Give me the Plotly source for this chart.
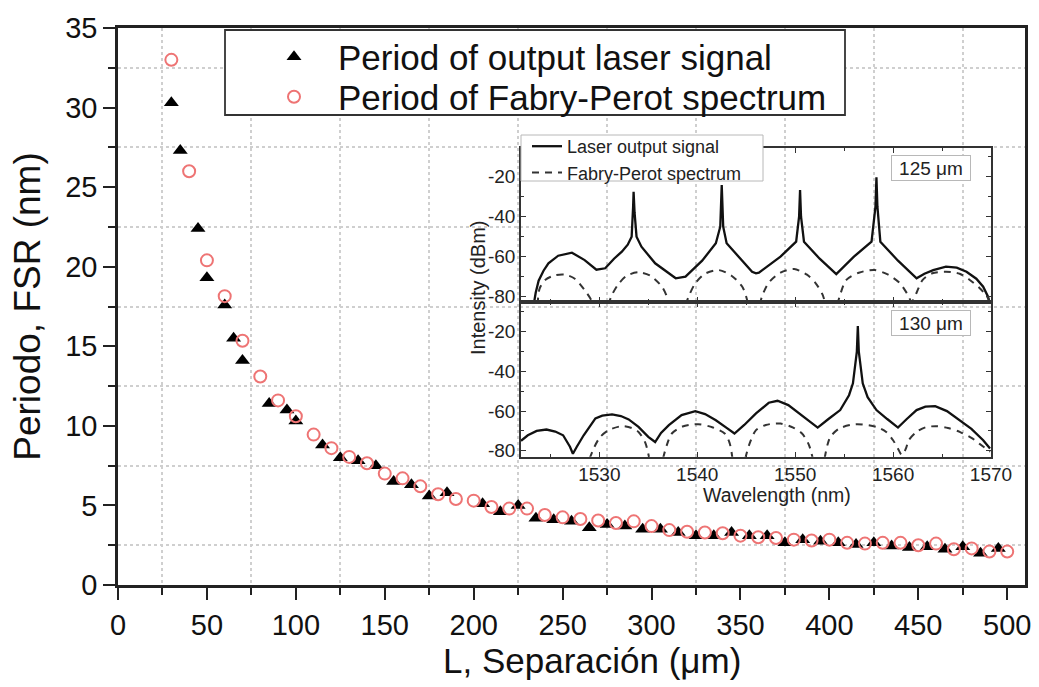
import plotly.graph_objects as go

# ---------------- main chart data ----------------
L_laser = [30, 35, 45, 50, 60, 65, 70, 85, 95, 100, 115, 125, 135, 145, 155, 165, 175, 185, 205, 215,
           225, 235, 245, 255, 265, 275, 285, 295, 305, 315, 325, 335, 345, 355, 365, 375, 385, 395, 405, 415,
           425, 435, 445, 455, 465, 475, 485, 495]
P_laser = [30.3, 27.3, 22.4, 19.3, 17.6, 15.5, 14.1, 11.4, 11.0, 10.3, 8.8, 8.0, 7.8, 7.5, 6.5, 6.3, 5.6, 5.8, 5.1, 4.6,
           5.0, 4.2, 4.1, 4.0, 3.6, 3.8, 3.7, 3.5, 3.5, 3.3, 3.1, 3.1, 3.3, 3.1, 3.1, 2.65, 2.85, 2.75, 2.65, 2.55,
           2.65, 2.45, 2.35, 2.4, 2.25, 2.4, 2.0, 2.3]

L_fp = [30, 40, 50, 60, 70, 80, 90, 100, 110, 120, 130, 140, 150, 160, 170, 180, 190, 200, 210, 220,
        230, 240, 250, 260, 270, 280, 290, 300, 310, 320, 330, 340, 350, 360, 370, 380, 390, 400, 410, 420,
        430, 440, 450, 460, 470, 480, 490, 500]
P_fp = [33.0, 26.0, 20.4, 18.15, 15.35, 13.1, 11.6, 10.6, 9.45, 8.6, 8.05, 7.65, 7.0, 6.7, 6.2, 5.7, 5.4, 5.3, 4.9, 4.8,
        4.8, 4.4, 4.25, 4.15, 4.05, 3.9, 4.0, 3.7, 3.45, 3.35, 3.3, 3.25, 3.1, 3.0, 2.95, 2.85, 2.8, 2.85, 2.65, 2.6,
        2.65, 2.65, 2.5, 2.6, 2.25, 2.3, 2.1, 2.1]

# ---------------- inset: 125 um ----------------
wl_125_laser = [1523.3, 1523.5, 1523.8, 1524.3, 1524.8, 1525.8, 1527.2, 1528.5, 1529.7, 1530.6, 1531.5, 1532.3,
                1532.9, 1533.3, 1533.45, 1533.5, 1533.6, 1533.8, 1534.3, 1535.7, 1537.8, 1538.8, 1540.5, 1541.9,
                1542.35, 1542.5, 1542.65, 1543.0, 1545.6, 1546.0, 1546.3, 1548.5, 1550.1, 1550.4, 1550.5, 1550.6,
                1550.9, 1552.5, 1554.2, 1556.0, 1557.8, 1558.2, 1558.3, 1558.4, 1558.7, 1560.5, 1562.4, 1563.2,
                1564.1, 1565.4, 1566.5, 1567.5, 1568.5, 1569.2, 1569.7, 1569.9]
dB_125_laser = [-84, -78, -72, -67, -63.3, -59.5, -58, -61.7, -66.5, -65.8, -61, -57.5,
                -54, -50, -35, -27.5, -38, -50, -55, -63.3, -70.8, -70, -62, -53.3,
                -45, -24.2, -45, -53.3, -67.5, -68.3, -68, -60, -52.5, -40, -26.7, -40,
                -52.5, -61, -68.7, -60, -52.5, -35, -20.3, -35, -52.5, -62, -70.8, -68.5,
                -66.7, -65, -65.5, -67.5, -71, -75, -80, -84]

wl_125_fp = [1523.7, 1523.9, 1524.5, 1525.5, 1526.5, 1527.5, 1528.5, 1529.1, 1529.4, None,
             1530.9, 1531.3, 1531.9, 1532.8, 1534.0, 1535.2, 1536.4, 1536.9, 1537.1, None,
             1538.8, 1539.2, 1539.8, 1540.8, 1542.2, 1543.5, 1544.6, 1545.0, 1545.2, None,
             1546.4, 1546.6, 1547.3, 1548.5, 1549.9, 1551.2, 1552.1, 1552.8, 1553.1, None,
             1554.3, 1554.6, 1555.2, 1556.5, 1558.1, 1559.5, 1560.7, 1561.5, 1561.9, 1562.4, 1563.0,
             1564.0, 1565.4, 1566.8, 1567.8, 1568.8, 1569.6, 1569.95]
dB_125_fp = [-84, -76, -71.5, -69.3, -69, -71, -76.7, -81, -84, None,
             -84, -79, -74, -69.5, -67.8, -69.5, -75, -80, -84, None,
             -84, -79, -73.3, -68.5, -66.7, -69.5, -75, -80, -84, None,
             -84, -80, -73, -68, -66.2, -69, -73.3, -79, -84, None,
             -84, -79, -71.7, -68, -66.7, -69, -73.3, -79, -82.5, -78, -71.7,
             -68.3, -67.5, -68.5, -71.5, -75.5, -80, -83]

# ---------------- inset: 130 um ----------------
wl_130_laser = [1522.0, 1522.7, 1523.6, 1524.6, 1525.5, 1526.3, 1527.0, 1527.3, 1527.7, 1528.4, 1529.6, 1530.3,
                1531.3, 1532.2, 1533.0, 1534.0, 1535.0, 1535.7, 1536.3, 1537.1, 1538.4, 1539.8, 1540.8, 1541.9,
                1543.0, 1543.8, 1544.8, 1546.0, 1547.3, 1548.2, 1549.3, 1550.4, 1551.4, 1552.3, 1553.4, 1554.6,
                1555.5, 1555.9, 1556.3, 1556.4, 1556.5, 1556.9, 1557.4, 1558.3, 1559.4, 1560.5, 1561.4, 1562.4,
                1563.3, 1564.3, 1565.5, 1566.8, 1568.0, 1569.2, 1569.9]
dB_130_laser = [-75, -72.2, -70, -69.3, -70.3, -72.2, -78, -81.5, -78, -72.2, -63.7, -62.3,
                -61.7, -62.5, -64.2, -68, -73, -75.6, -71, -67.1, -62, -60, -61.5, -64.6,
                -68.5, -71.3, -67, -61.2, -55.8, -54.8, -57, -61.2, -65, -68.3, -64, -59.5,
                -52, -46, -30, -17.1, -30, -46, -53, -59.5, -64, -68.3, -64, -59.5,
                -57.8, -57.5, -60, -64.6, -69, -74.7, -78.9]

wl_130_fp = [1529.0, 1529.5, 1530.1, 1531.0, 1532.3, 1533.3, 1534.0, 1534.7, 1535.1, None,
             1536.5, 1536.9, 1537.4, 1538.5, 1540.1, 1541.6, 1542.8, 1543.3, 1543.6, None,
             1544.9, 1545.3, 1546.0, 1547.0, 1548.5, 1549.8, 1550.7, 1551.4, 1551.8, None,
             1553.0, 1553.3, 1553.6, 1554.5, 1556.2, 1558.3, 1559.3, 1560.0, 1560.5, 1560.9, 1561.3,
             1561.6, 1562.4, 1563.3, 1564.4, 1565.6, 1566.8, 1568.0, 1568.8, 1569.9]
dB_130_fp = [-84, -78, -73, -69.5, -67.6, -68.5, -70.5, -76, -84, None,
             -84, -77, -71.3, -67.8, -66.6, -68.3, -71.3, -76, -84, None,
             -84, -77, -69.6, -67, -66.3, -68.3, -71.3, -77, -84, None,
             -84, -77, -73, -68.8, -66.6, -68, -70.5, -74.7, -79, -82.2, -79,
             -74.7, -70.5, -68.2, -67.6, -68.5, -70.5, -73.5, -76.4, -80.5]

inset_ticks = [-80, -60, -40, -20]
inset_tick_text = ["-80", "-60", "-40", "-20"]

# ---------------- layout helpers (pixel -> paper) ----------------
W, H = 1039, 687
ML, MR, MT, MB = 118, 14, 28, 102
PW, PH = W - ML - MR, H - MT - MB


def px(x):
    return (x - ML) / PW


def py(y):
    return (H - MB - y) / PH


FONT = "Liberation Sans, Arial, sans-serif"
INK = "#111111"
GREY = "#222222"

fig = go.Figure()

fig.add_trace(go.Scatter(
    x=L_laser, y=P_laser, mode="markers", name="Period of output laser signal",
    marker=dict(symbol="triangle-up", size=13, color="#000000", line=dict(width=0)),
    legend="legend", showlegend=True, xaxis="x", yaxis="y"))
fig.add_trace(go.Scatter(
    x=L_fp, y=P_fp, mode="markers", name="Period of Fabry-Perot spectrum",
    marker=dict(symbol="circle-open", size=12, color="#EE7474", line=dict(width=2, color="#EE7474")),
    legend="legend3", showlegend=True, xaxis="x", yaxis="y"))

# inset traces
fig.add_trace(go.Scatter(
    x=wl_125_laser, y=dB_125_laser, mode="lines", name="Laser output signal",
    line=dict(color="#111111", width=2.3), legend="legend2", legendgroup="laser",
    xaxis="x2", yaxis="y2"))
fig.add_trace(go.Scatter(
    x=wl_125_fp, y=dB_125_fp, mode="lines", name="Fabry-Perot spectrum",
    line=dict(color="#333333", width=2, dash="7px,6px", shape="spline", smoothing=0.8),
    legend="legend2", legendgroup="fp", connectgaps=False,
    xaxis="x2", yaxis="y2"))
fig.add_trace(go.Scatter(
    x=wl_130_laser, y=dB_130_laser, mode="lines", name="Laser output signal",
    line=dict(color="#111111", width=2.3), legend="legend2", legendgroup="laser",
    showlegend=False, xaxis="x3", yaxis="y3"))
fig.add_trace(go.Scatter(
    x=wl_130_fp, y=dB_130_fp, mode="lines", name="Fabry-Perot spectrum",
    line=dict(color="#333333", width=2, dash="7px,6px", shape="spline", smoothing=0.8),
    legend="legend2", legendgroup="fp", showlegend=False, connectgaps=False,
    xaxis="x3", yaxis="y3"))

grid = dict(showgrid=True, gridcolor="#cfcfcf", griddash="dot", gridwidth=1.5)

ix0, ix1 = px(521), px(991)
inset_axis = dict(showline=True, linecolor="#333333", linewidth=1.5, mirror="ticks",
                  ticks="inside", ticklen=5, tickwidth=1.3, tickcolor="#333333",
                  showgrid=False, zeroline=False,
                  tickfont=dict(size=19, color=GREY, family=FONT))
inset_minor = dict(ticks="inside", ticklen=3, tickcolor="#333333")

fig.update_layout(
    width=W, height=H,
    showlegend=True,
    margin=dict(l=ML, r=MR, t=MT, b=MB, autoexpand=False),
    paper_bgcolor="white", plot_bgcolor="rgba(0,0,0,0)",
    font=dict(family=FONT, color=INK),
    xaxis=dict(
        range=[0, 510], tick0=0, dtick=50, ticks="outside", ticklen=12, tickwidth=2, tickcolor="#222222",
        showline=True, linecolor="#222222", linewidth=2.5, mirror=True, zeroline=False, showgrid=False,
        tickfont=dict(size=29, color=INK),
        minor=dict(tick0=0, dtick=25, ticks="outside", ticklen=7, tickwidth=2, tickcolor="#222222", **grid),
    ),
    yaxis=dict(
        range=[0, 35], tick0=0, dtick=5, ticks="outside", ticklen=12, tickwidth=2, tickcolor="#222222",
        showline=True, linecolor="#222222", linewidth=2.5, mirror=True, zeroline=False, showgrid=False,
        tickfont=dict(size=29, color=INK),
        minor=dict(tick0=0, dtick=2.5, ticks="outside", ticklen=7, tickwidth=2, tickcolor="#222222", **grid),
        title=dict(text="Periodo, FSR (nm)", font=dict(size=37, color=INK), standoff=14),
    ),
    xaxis2=dict(domain=[ix0, ix1], anchor="y2", range=[1522, 1570], tick0=1530, dtick=10,
                showticklabels=False, minor=dict(dtick=5, **inset_minor), **inset_axis),
    yaxis2=dict(domain=[py(301.7), py(148.3)], anchor="x2", range=[-82.5, -5.8],
                tickvals=inset_ticks, ticktext=inset_tick_text,
                minor=dict(dtick=10, **inset_minor), **inset_axis),
    xaxis3=dict(domain=[ix0, ix1], anchor="y3", range=[1522, 1570], tick0=1530, dtick=10,
                minor=dict(dtick=5, **inset_minor), **inset_axis),
    yaxis3=dict(domain=[py(456.7), py(302)], anchor="x3", range=[-83, -5],
                tickvals=inset_ticks, ticktext=inset_tick_text,
                minor=dict(dtick=10, **inset_minor), **inset_axis),
    legend=dict(visible=True, x=px(250), y=py(57), xanchor="left", yanchor="middle",
                bgcolor="rgba(0,0,0,0)", borderwidth=0, font=dict(size=35, color=INK), itemwidth=78),
    legend3=dict(visible=True, x=px(250), y=py(97), xanchor="left", yanchor="middle",
                 bgcolor="rgba(0,0,0,0)", borderwidth=0, font=dict(size=35, color=INK), itemwidth=78),
    legend2=dict(visible=True, x=px(527), y=py(159.5), xanchor="left", yanchor="middle",
                 bgcolor="rgba(0,0,0,0)", borderwidth=0, font=dict(size=18, color=GREY),
                 itemwidth=30, tracegroupgap=0),
    shapes=[
        dict(type="rect", xref="paper", yref="paper", x0=px(225), x1=px(845), y0=py(115), y1=py(30),
             line=dict(color="#333333", width=1.8), fillcolor="white", layer="above"),
        dict(type="rect", xref="paper", yref="paper", x0=px(521), x1=px(763), y0=py(181), y1=py(135),
             line=dict(color="#b8b8b8", width=1), fillcolor="white", layer="above"),
    ],
    annotations=[
        dict(text="L, Separación (μm)", xref="paper", yref="paper", x=px(592), y=py(660),
             xanchor="center", yanchor="middle", showarrow=False, font=dict(size=35, color=INK)),
        dict(text="125 μm", xref="paper", yref="paper", x=px(930.5), y=py(168), xanchor="center",
             yanchor="middle", showarrow=False,
             font=dict(size=19, color=GREY), bordercolor="#b8b8b8", borderwidth=1, bgcolor="white",
             width=76, height=22, borderpad=1),
        dict(text="130 μm", xref="paper", yref="paper", x=px(930.5), y=py(323), xanchor="center",
             yanchor="middle", showarrow=False,
             font=dict(size=19, color=GREY), bordercolor="#b8b8b8", borderwidth=1, bgcolor="white",
             width=76, height=22, borderpad=1),
        dict(text="Wavelength (nm)", xref="paper", yref="paper", x=px(777), y=py(495), xanchor="center",
             yanchor="middle", showarrow=False, font=dict(size=19.5, color=GREY)),
        dict(text="Intensity (dBm)", xref="paper", yref="paper", x=px(478), y=py(288), xanchor="center",
             yanchor="middle", showarrow=False, textangle=-90, font=dict(size=20, color=GREY)),
    ],
)

fig.write_html("out.html")
